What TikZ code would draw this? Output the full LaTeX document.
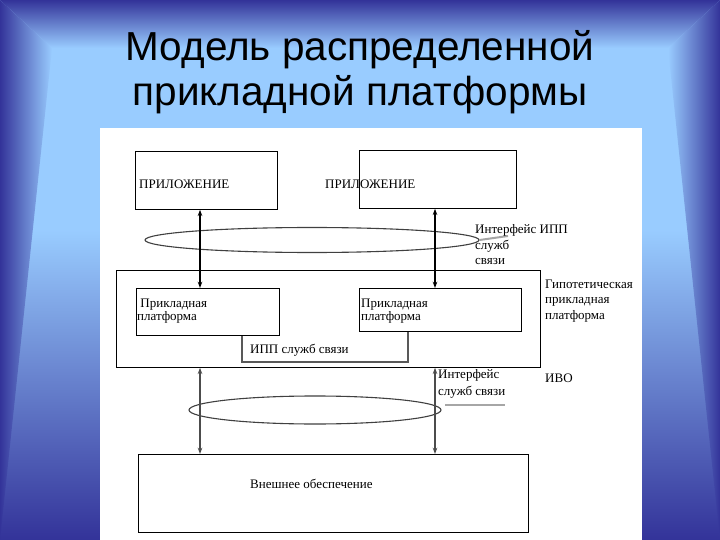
\documentclass[tikz,border=0pt]{standalone}
\usepackage{fontspec}
\setmainfont{Liberation Serif}
\newfontfamily\titlefont{Liberation Sans}
\usepackage{tikz}
\usetikzlibrary{arrows.meta,shapes.geometric}
\definecolor{frameblue}{HTML}{333399}
\definecolor{skyblue}{HTML}{99CCFF}
\tikzset{
  box/.style     = {draw,line width=0.8pt,anchor=north west,inner sep=0pt},
  ring/.style    = {ellipse,draw=black!75,line width=1.1pt,inner sep=0pt},
  linkarr/.style = {{Stealth[length=2.2mm,width=1.6mm]}-{Stealth[length=2.2mm,width=1.6mm]},line width=1.1pt},
  ippline/.style = {gray!70!black,line width=1.3pt},
  leader/.style  = {gray!70,line width=2pt},
  lbl/.style     = {anchor=west,align=left,inner sep=0pt,font=\fontsize{13}{15.5}\selectfont},
  small/.style   = {lbl,font=\fontsize{13}{15.5}\selectfont}
}

\begin{document}
\begin{tikzpicture}[x=1pt,y=-1pt]
  \useasboundingbox (0,0) rectangle (720,540);
  % slide frame
  \fill[skyblue] (0,0) rectangle (720,540);
  \shade[top color=skyblue,bottom color=frameblue] (0,230) rectangle (720,540);
  \shade[top color=frameblue,bottom color=skyblue] (0,0) -- (720,0) -- (668,48) -- (52,48) -- cycle;
  \shade[left color=frameblue,right color=skyblue] (0,0) -- (52,48) -- (0,540) -- cycle;
  \shade[left color=skyblue,right color=frameblue] (720,0) -- (668,48) -- (720,540) -- cycle;
  \node[font=\titlefont\fontsize{40.5}{43}\selectfont,anchor=base] (title1) at (360,61) {Модель распределенной};
  \node[font=\titlefont\fontsize{40.5}{43}\selectfont,anchor=base] (title2) at (360,106) {прикладной платформы};
  \fill[white] (100,128) rectangle (642,540);
  % boxes
  \node[box,minimum width=142,minimum height=58] (app1)  at (135,151) {};
  \node[box,minimum width=157,minimum height=58] (app2)  at (359,150) {};
  \node[box,minimum width=424,minimum height=97] (hyp)   at (116,270) {};
  \node[box,minimum width=143,minimum height=47] (plat1) at (136,288) {};
  \node[box,line width=1.2pt,minimum width=162,minimum height=43] (plat2) at (359,288) {};
  \node[box,minimum width=390,minimum height=78] (ext)   at (138,454) {};
  \node[ring,minimum width=334,minimum height=25] (ring1) at (312,240) {};
  \node[ring,minimum width=252,minimum height=28] (ring2) at (315,410) {};
  % connectors
  \coordinate (axl) at (200,0);
  \coordinate (axr) at (435,0);
  \draw[linkarr] (app1.south -| axl) -- (plat1.north -| axl);
  \draw[linkarr] (app2.south -| axr) -- (plat2.north -| axr);
  \draw[linkarr,gray!60!black] (hyp.south -| axl) -- (ext.north -| axl);
  \draw[linkarr,gray!60!black] (hyp.south -| axr) -- (ext.north -| axr);
  \coordinate (ippl) at (242,362);
  \coordinate (ippr) at (408,362);
  \draw[ippline] (plat1.south -| ippl) -- (ippl) -- (ippr) -- (plat2.south -| ippr);
  \coordinate (lead1) at (508,236);
  \draw[leader] (ring1.east) -- (lead1);
  \coordinate (lead2a) at (445,405);
  \coordinate (lead2b) at (505,405);
  \draw[leader] (lead2a) -- (lead2b);
  % labels
  \node[lbl] (app1txt)  at (139,184) {ПРИЛОЖЕНИЕ};
  \node[lbl] (app2txt)  at (325,184) {ПРИЛОЖЕНИЕ};
  \node[lbl,font=\fontsize{13}{13.5}\selectfont] (plat1txt) at (137,311) {\ Прикладная\\платформа};
  \node[lbl,font=\fontsize{13}{13.5}\selectfont] (plat2txt) at (361,311) {Прикладная\\платформа};
  \node[lbl] (ipptxt)   at (250,350) {ИПП служб связи};
  \node[lbl] (exttxt)   at (250,484) {Внешнее обеспечение};
  \node[small] (if1txt) at (475,245) {Интерфейс ИПП\\служб\\связи};
  \node[small] (hyptxt) at (545,301) {Гипотетическая\\прикладная\\платформа};
  \node[small] (ivotxt) at (545,378) {ИВО};
  \node[small,font=\fontsize{13}{17}\selectfont] (if2txt) at (438,384) {Интерфейс\\служб связи};
\end{tikzpicture}
\end{document}
